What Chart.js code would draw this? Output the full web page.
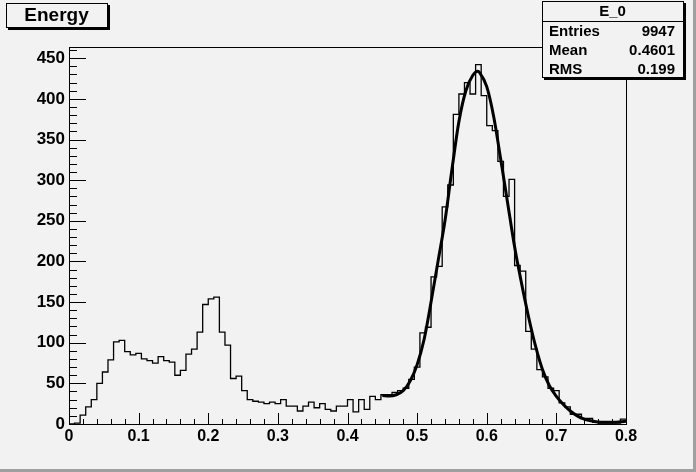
<!DOCTYPE html>
<html>
<head>
<meta charset="utf-8">
<script src="https://cdn.jsdelivr.net/npm/chart.js@4.4.0/dist/chart.umd.min.js"></script>
<style>
  html, body { margin: 0; padding: 0; background: #f2f2f2; }
  canvas { display: block; }
</style>
</head>
<body>
<canvas id="energy" width="696" height="472"></canvas>
<script>
// histogram E_0 : 100 bins from 0 to 0.8
const xMin = 0;
const xMax = 0.8;
const counts = [
  0, 1, 11, 21, 30, 50, 64, 79, 101, 103,
  89, 85, 87, 80, 78, 75, 83, 78, 76, 60,
  66, 86, 92, 113, 147, 154, 156, 113, 97, 56,
  59, 41, 30, 28, 27, 25, 27, 25, 30, 22,
  22, 16, 22, 27, 20, 25, 18, 16, 22, 22,
  30, 15, 30, 18, 34, 30, 36, 36, 39, 41,
  44, 55, 70, 112, 119, 181, 194, 267, 294, 381,
  406, 420, 406, 442, 404, 367, 361, 323, 280, 301,
  195, 188, 114, 92, 67, 58, 44, 41, 26, 21,
  12, 12, 7, 7, 2, 1, 1, 1, 1, 6
];

// fit curve
const fitX = [0.45, 0.46, 0.47, 0.48, 0.49, 0.50, 0.51, 0.52, 0.53, 0.54, 0.55, 0.56, 0.57, 0.58, 0.587, 0.59,
  0.60, 0.61, 0.62, 0.63, 0.64, 0.65, 0.66, 0.67, 0.68, 0.69, 0.70, 0.71, 0.72, 0.73, 0.74, 0.75, 0.76, 0.78, 0.80];
const fitY = [35, 34.5, 36, 41, 53, 73, 104, 150, 200, 250, 313, 372, 410, 429, 434, 432,
  415, 378, 326, 272, 218, 173, 132, 96, 67, 47, 34, 24, 16, 10, 6, 4, 2.5, 2, 3.5];

const yMax = 463.8;
const xTicks = [0, 0.1, 0.2, 0.3, 0.4, 0.5, 0.6, 0.7, 0.8];
const yTicks = [0, 50, 100, 150, 200, 250, 300, 350, 400, 450];

const histTitle = "Energy";
const statsName = "E_0";
const statsRows = [["Entries", "9947"], ["Mean", "0.4601"], ["RMS", "0.199"]];

const binW = (xMax - xMin) / counts.length;
const histPoints = counts.map((c, i) => ({ x: xMin + i * binW, y: c }));
histPoints.push({ x: xMax, y: counts[counts.length - 1] });
const fitPoints = fitX.map((x, i) => ({ x: x, y: fitY[i] }));

const FONT = "'Liberation Sans', Arial, sans-serif";

const rootStyle = {
  id: "rootStyle",
  beforeDraw(chart) {
    const ctx = chart.ctx;
    ctx.save();
    ctx.fillStyle = "#f2f2f2";
    ctx.fillRect(0, 0, chart.width, chart.height);
    ctx.restore();
  },
  afterDraw(chart) {
    const ctx = chart.ctx;
    const a = chart.chartArea;
    const xs = chart.scales.x;
    const ys = chart.scales.y;
    ctx.save();
    ctx.strokeStyle = "#000";
    ctx.lineWidth = 1;

    // frame
    ctx.strokeRect(a.left + 0.5, a.top + 0.5, a.right - a.left, a.bottom - a.top);

    // x ticks, pointing up into the frame
    ctx.beginPath();
    for (let i = 0; i <= 40; i++) {
      const px = Math.round(xs.getPixelForValue(i * 0.02)) + 0.5;
      const len = i % 5 === 0 ? 11 : 5;
      ctx.moveTo(px, a.bottom);
      ctx.lineTo(px, a.bottom - len);
    }
    // y ticks, pointing right
    for (let v = 0; v <= yMax; v += 10) {
      const py = Math.round(ys.getPixelForValue(v)) + 0.5;
      const len = v % 50 === 0 ? 17 : 8;
      ctx.moveTo(a.left, py);
      ctx.lineTo(a.left + len, py);
    }
    ctx.stroke();

    // title box
    drawBox(ctx, 6, 3, 101, 24);
    ctx.fillStyle = "#000";
    ctx.font = "bold 19px " + FONT;
    ctx.textAlign = "center";
    ctx.textBaseline = "middle";
    ctx.fillText(histTitle, 56.5, 15.5);

    // stats box
    drawBox(ctx, 542, 1, 141, 76);
    ctx.beginPath();
    ctx.moveTo(542, 21.5);
    ctx.lineTo(683, 21.5);
    ctx.stroke();
    ctx.fillStyle = "#000";
    ctx.font = "bold 15px " + FONT;
    ctx.textAlign = "center";
    ctx.fillText(statsName, 612.5, 11.5);
    statsRows.forEach((row, i) => {
      const y = 31.5 + i * 19;
      ctx.textAlign = "left";
      ctx.fillText(row[0], 549, y);
      ctx.textAlign = "right";
      ctx.fillText(row[1], 675, y);
    });

    // canvas border
    ctx.fillStyle = "#a0a0a0";
    ctx.fillRect(chart.width - 3, 0, 3, chart.height);
    ctx.fillRect(0, chart.height - 3, chart.width, 3);
    ctx.restore();
  }
};

function drawBox(ctx, x, y, w, h) {
  ctx.fillStyle = "#000";
  ctx.fillRect(x + 2, y + 2, w + 1, h + 1);
  ctx.fillStyle = "#f2f2f2";
  ctx.fillRect(x, y, w, h);
  ctx.strokeStyle = "#000";
  ctx.lineWidth = 1;
  ctx.strokeRect(x + 0.5, y + 0.5, w, h);
}

new Chart(document.getElementById("energy"), {
  type: "line",
  data: {
    datasets: [
      {
        label: "E_0",
        data: histPoints,
        stepped: true,
        borderColor: "#000",
        borderWidth: 1.3,
        pointRadius: 0,
        fill: false,
      },
      {
        label: "fit",
        data: fitPoints,
        cubicInterpolationMode: "monotone",
        borderColor: "#000",
        borderWidth: 3,
        pointRadius: 0,
        fill: false,
      },
    ],
  },
  options: {
    responsive: false,
    animation: false,
    devicePixelRatio: 1,
    layout: { padding: { left: 0, right: 70, top: 47, bottom: 0 } },
    plugins: {
      legend: { display: false },
      tooltip: { enabled: false },
    },
    scales: {
      x: {
        type: "linear",
        min: xMin,
        max: xMax,
        afterFit(scale) { scale.height = 48; },
        afterBuildTicks(scale) { scale.ticks = xTicks.map(v => ({ value: v })); },
        grid: { display: false, drawTicks: false },
        border: { display: false },
        ticks: {
          padding: 3,
          color: "#000",
          font: { family: FONT, size: 16, weight: "bold" },
          maxRotation: 0,
          callback: v => String(+v.toFixed(2)),
        },
      },
      y: {
        min: 0,
        max: yMax,
        afterFit(scale) { scale.width = 69; },
        afterBuildTicks(scale) { scale.ticks = yTicks.map(v => ({ value: v })); },
        grid: { display: false, drawTicks: false },
        border: { display: false },
        ticks: {
          padding: 4,
          color: "#000",
          font: { family: FONT, size: 17, weight: "bold" },
          callback: v => String(v),
        },
      },
    },
  },
  plugins: [rootStyle],
});
</script>
</body>
</html>
